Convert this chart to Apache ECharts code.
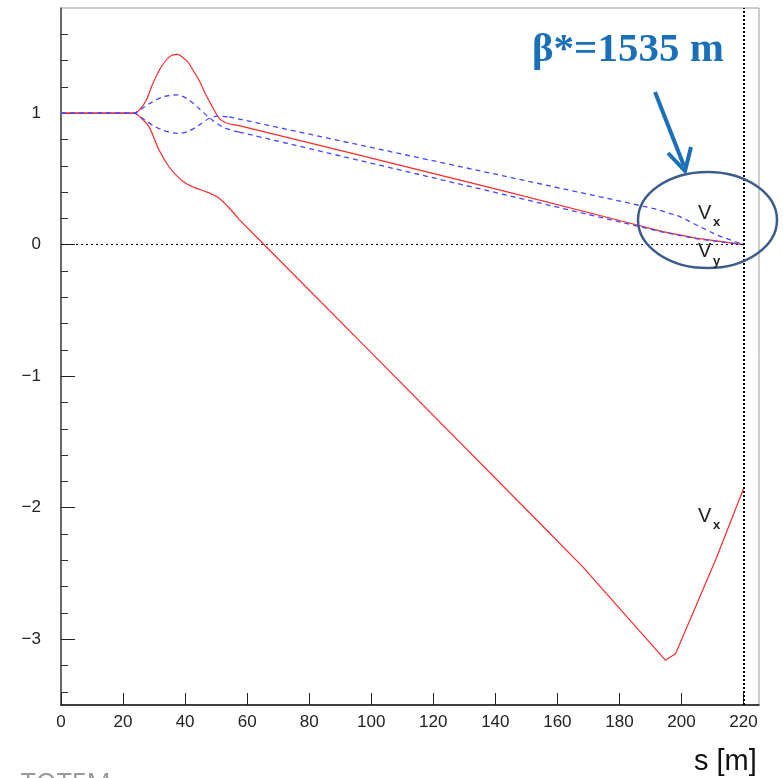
<!DOCTYPE html>
<html><head><meta charset="utf-8">
<script src="https://cdn.jsdelivr.net/npm/echarts@6/dist/echarts.min.js"></script>
<style>html,body{margin:0;padding:0;background:#fff}#c{width:783px;height:778px}</style>
</head><body><div id="c"></div>
<script>
// ---- tick values ----
const xTicks = [0, 20, 40, 60, 80, 100, 120, 140, 160, 180, 200, 220];
const yMajorTicks = [-3, -2, -1, 0, 1];
const yMinorTicks = [-3.4, -3.2, -2.8, -2.6, -2.4, -2.2, -1.8, -1.6, -1.4, -1.2,
                     -0.8, -0.6, -0.4, -0.2, 0.2, 0.4, 0.6, 0.8, 1.2, 1.4, 1.6];

// ---- red solid, upper (peak): smooth bump part + straight tail ----
const sRedA = [0, 23.5, 25.5, 27.5, 29.5, 32, 35, 37.5, 40, 41.3, 43, 44.5, 46.5, 48.8, 51, 53.1, 57.4];
const vRedA = [1, 1, 1.03, 1.10, 1.22, 1.34, 1.43, 1.447, 1.41, 1.376, 1.31, 1.25, 1.15, 1.048, 0.96, 0.927, 0.905];
const sRedATail = [57.4, 92.9, 141.3, 183.2, 194, 204.7, 220];
const vRedATail = [0.905, 0.70, 0.417, 0.165, 0.10, 0.05, 0];

// ---- red solid, lower (V_x) ----
const sRedB = [0, 23.5, 26, 28.4, 31.6, 34.8, 37.5, 40.2, 43.5, 46.7, 49, 51, 54, 57.4];
const vRedB = [1, 1, 0.96, 0.896, 0.72, 0.593, 0.52, 0.467, 0.43, 0.404, 0.38, 0.353, 0.285, 0.193];
const sRedBTail = [57.4, 65.5, 100, 157.4, 168.2, 194.8, 198.1, 211.2, 220];
const vRedBTail = [0.193, 0, -0.82, -2.19, -2.45, -3.159, -3.11, -2.386, -1.856];

// ---- blue dashed, dip first (ends upper, V_x) ----
const sBlueA = [0, 23.5, 26, 29.5, 33, 37.5, 41, 44.5, 47.7, 50.5, 54.2];
const vBlueA = [1, 1, 0.965, 0.909, 0.87, 0.846, 0.862, 0.909, 0.96, 0.978, 0.972];
const sBlueATail = [54.2, 141.3, 183.2, 192, 199.4, 204.7, 211.2, 220];
const vBlueATail = [0.972, 0.53, 0.316, 0.27, 0.215, 0.152, 0.076, 0];

// ---- blue dashed, peak first (ends lower, V_y) ----
const sBlueB = [0, 23.5, 26, 29.5, 33, 37.5, 41, 44.5, 48.8, 52.6, 57.4];
const vBlueB = [1, 1, 1.035, 1.086, 1.125, 1.14, 1.105, 1.035, 0.947, 0.89, 0.857];
const sBlueBTail = [57.4, 141.3, 183.2, 194, 205, 220];
const vBlueBTail = [0.857, 0.39, 0.156, 0.096, 0.045, 0];

// ---- reference lines ----
const zeroLineS = [0, 220];
const endS = 220;

const zip = (s, v) => s.map((x, i) => [x, v[i]]);
const fmtY = v => v < 0 ? '\u2212' + Math.abs(v) : String(v);

const RED = '#ff2a2a';
const BLUE = '#4646ff';

function curve(name, s, v, color, dashed, smooth, z) {
  return {type: 'line', name, data: zip(s, v), showSymbol: false, symbol: 'none', smooth: smooth,
          lineStyle: {color, width: dashed ? 1.3 : 1.2, type: dashed ? [5, 4] : 'solid'}, z, silent: true};
}

const chart = echarts.init(document.getElementById('c'), null, {renderer: 'canvas'});
chart.setOption({
  animation: false,
  backgroundColor: '#fff',
  grid: {left: 61, right: 24, top: 8, bottom: 73, show: true, borderColor: '#9a9a9a', borderWidth: 1},
  xAxis: [{
    type: 'value', min: 0, max: 225,
    axisLine: {show: true, onZero: false, lineStyle: {color: '#111', width: 1.5}},
    axisTick: {show: true, inside: true, length: 12, customValues: xTicks, lineStyle: {color: '#222', width: 1}},
    axisLabel: {customValues: xTicks, fontSize: 17, color: '#222', margin: 9, fontFamily: 'Liberation Sans'},
    splitLine: {show: false}
  }],
  yAxis: [{
    type: 'value', min: -3.5, max: 1.8, position: 'left',
    axisLine: {show: true, onZero: false, lineStyle: {color: '#444', width: 1.5}},
    axisTick: {show: true, inside: true, length: 14, customValues: yMajorTicks, lineStyle: {color: '#222', width: 1}},
    axisLabel: {customValues: yMajorTicks, fontSize: 17, color: '#222', margin: 20, formatter: fmtY, fontFamily: 'Liberation Sans'},
    splitLine: {show: false}
  }, {
    type: 'value', min: -3.5, max: 1.8, position: 'left', offset: 0,
    axisLine: {show: false},
    axisTick: {show: true, inside: true, length: 7, customValues: yMinorTicks, lineStyle: {color: '#333', width: 1}},
    axisLabel: {show: false},
    splitLine: {show: false}
  }],
  series: [
    curve('redA', sRedA, vRedA, RED, false, 0.3, 2),
    curve('redATail', sRedATail, vRedATail, RED, false, false, 2),
    curve('redB', sRedB, vRedB, RED, false, 0.3, 2),
    curve('redBTail', sRedBTail, vRedBTail, RED, false, false, 2),
    curve('blueA', sBlueA, vBlueA, BLUE, true, 0.3, 3),
    curve('blueATail', sBlueATail, vBlueATail, BLUE, true, false, 3),
    curve('blueB', sBlueB, vBlueB, BLUE, true, 0.3, 3),
    Object.assign(curve('blueBTail', sBlueBTail, vBlueBTail, BLUE, true, false, 3), {
      markLine: {
        silent: true, symbol: 'none', label: {show: false},
        data: [
          [{coord: [zeroLineS[0], 0], lineStyle: {color: '#000', width: 1, type: [2, 3]}}, {coord: [zeroLineS[1], 0]}],
          {xAxis: endS, lineStyle: {color: '#000', width: 2, type: [2, 2]}}
        ]
      }
    })
  ],
  graphic: [
    {type: 'text', x: 532, y: 50, z: 100, style: {text: 'β*=1535 m', font: 'bold 41px "Liberation Serif"', fill: '#1a70b8', verticalAlign: 'middle', align: 'left'}},
    {type: 'line', z: 100, shape: {x1: 655, y1: 92, x2: 684, y2: 166}, style: {stroke: '#1a70b8', lineWidth: 4}},
    {type: 'polyline', z: 100, shape: {points: [[668, 153], [685, 171], [691, 147]]}, style: {stroke: '#1a70b8', lineWidth: 4, fill: 'none', lineJoin: 'miter'}},
    {type: 'ellipse', z: 100, shape: {cx: 707.5, cy: 220, rx: 69.5, ry: 48}, style: {fill: 'none', stroke: '#3c5d8c', lineWidth: 2.5}},
    {type: 'text', x: 698, y: 213, z: 100, style: {text: 'V', font: '20px "Liberation Sans"', fill: '#222', verticalAlign: 'middle'}},
    {type: 'text', x: 713, y: 222, z: 100, style: {text: 'x', font: 'bold 13px "Liberation Sans"', fill: '#222', verticalAlign: 'middle'}},
    {type: 'text', x: 698, y: 251, z: 100, style: {text: 'V', font: '20px "Liberation Sans"', fill: '#222', verticalAlign: 'middle'}},
    {type: 'text', x: 713, y: 261, z: 100, style: {text: 'y', font: 'bold 13px "Liberation Sans"', fill: '#222', verticalAlign: 'middle'}},
    {type: 'text', x: 698, y: 516, z: 100, style: {text: 'V', font: '20px "Liberation Sans"', fill: '#222', verticalAlign: 'middle'}},
    {type: 'text', x: 713, y: 525, z: 100, style: {text: 'x', font: 'bold 13px "Liberation Sans"', fill: '#222', verticalAlign: 'middle'}},
    {type: 'text', x: 694, y: 762, z: 100, style: {text: 's [m]', font: '29px "Liberation Sans"', fill: '#111', verticalAlign: 'middle'}},
    {type: 'text', x: -6, y: 785, z: 100, style: {text: 's, TOTEM', font: '27px "Open Sans"', fill: '#9a9a9a', verticalAlign: 'middle'}}
  ]
});
</script>
</body></html>
